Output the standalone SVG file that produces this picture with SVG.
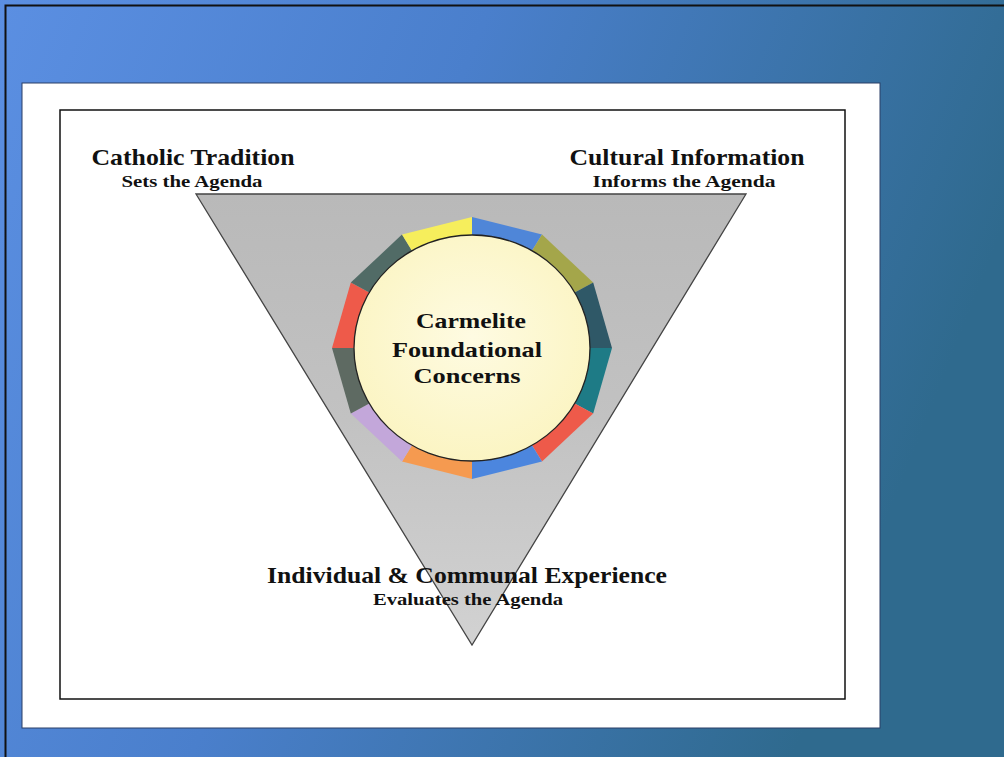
<svg xmlns="http://www.w3.org/2000/svg" width="1004" height="757" viewBox="0 0 1004 757">
<defs>
<linearGradient id="bg" x1="0" y1="0" x2="1" y2="0.3">
<stop offset="0" stop-color="#5b8fe2"/>
<stop offset="0.45" stop-color="#4a7fcc"/>
<stop offset="1" stop-color="#2f6a8e"/>
</linearGradient>
<linearGradient id="tri" x1="0" y1="0" x2="0" y2="1">
<stop offset="0" stop-color="#b9b9b9"/>
<stop offset="0.5" stop-color="#c2c2c2"/>
<stop offset="1" stop-color="#d2d2d2"/>
</linearGradient>
<radialGradient id="core" cx="0.5" cy="0.45" r="0.6">
<stop offset="0" stop-color="#fefbe2"/>
<stop offset="1" stop-color="#fbf4c0"/>
</radialGradient>
<style>
.t{font-family:"Liberation Serif","DejaVu Serif",serif;font-weight:bold;fill:#111;text-anchor:middle}
.h{font-size:23px}
.s{font-size:16px}
.c{font-size:22px}
.seg{stroke:none}
</style>
</defs>
<rect x="0" y="0" width="1004" height="757" fill="url(#bg)"/>
<path d="M5.5 757 V5.5 H1004" fill="none" stroke="#111" stroke-width="2"/>
<rect x="22" y="83" width="858" height="645" fill="#fff" stroke="#2a3f66" stroke-width="1"/>
<rect x="60" y="110" width="785" height="589" fill="#fff" stroke="#111" stroke-width="1.5"/>

<g id="triangle">
<polygon points="196,194 746,194 472,645" fill="url(#tri)" stroke="#444" stroke-width="1.3"/>
</g>

<g id="ring">
<polygon class="seg" fill="#4f86d8" points="472,217 542,234.6 472,348"/>
<polygon class="seg" fill="#a4a64a" points="542,234.6 593.2,282.5 472,348"/>
<polygon class="seg" fill="#2f5867" stroke="#1a1a1a" stroke-width="1" points="593.2,282.5 612,348 472,348"/>
<polygon class="seg" fill="#1e7b86" points="612,348 593.2,413.5 472,348"/>
<polygon class="seg" fill="#ee5a4a" points="593.2,413.5 542,461.4 472,348"/>
<polygon class="seg" fill="#4c86de" points="542,461.4 472,479 472,348"/>
<polygon class="seg" fill="#f59a50" points="472,479 402,461.4 472,348"/>
<polygon class="seg" fill="#c3a7da" points="402,461.4 350.8,413.5 472,348"/>
<polygon class="seg" fill="#5e6a62" stroke="#1a1a1a" stroke-width="1" points="350.8,413.5 332,348 472,348"/>
<polygon class="seg" fill="#ee5a4a" points="332,348 350.8,282.5 472,348"/>
<polygon class="seg" fill="#516b66" points="350.8,282.5 402,234.6 472,348"/>
<polygon class="seg" fill="#f6ee5c" points="402,234.6 472,217 472,348"/>
</g>

<g id="center">
<ellipse cx="472" cy="348" rx="118" ry="113" fill="url(#core)" stroke="#222" stroke-width="1.3"/>
<text class="t c" x="471" y="328" textLength="110" lengthAdjust="spacingAndGlyphs">Carmelite</text>
<text class="t c" x="467" y="357" textLength="150" lengthAdjust="spacingAndGlyphs">Foundational</text>
<text class="t c" x="467" y="383" textLength="107" lengthAdjust="spacingAndGlyphs">Concerns</text>
</g>

<g id="catholic">
<text class="t h" x="193" y="165" textLength="203" lengthAdjust="spacingAndGlyphs">Catholic Tradition</text>
<text class="t s" x="192" y="187" textLength="141" lengthAdjust="spacingAndGlyphs">Sets the Agenda</text>
</g>
<g id="cultural">
<text class="t h" x="687" y="165" textLength="235" lengthAdjust="spacingAndGlyphs">Cultural Information</text>
<text class="t s" x="684" y="187" textLength="183" lengthAdjust="spacingAndGlyphs">Informs the Agenda</text>
</g>
<g id="experience">
<text class="t h" x="467" y="583" textLength="400" lengthAdjust="spacingAndGlyphs">Individual &amp; Communal Experience</text>
<text class="t s" x="468" y="605" textLength="190" lengthAdjust="spacingAndGlyphs">Evaluates the Agenda</text>
</g>
</svg>
